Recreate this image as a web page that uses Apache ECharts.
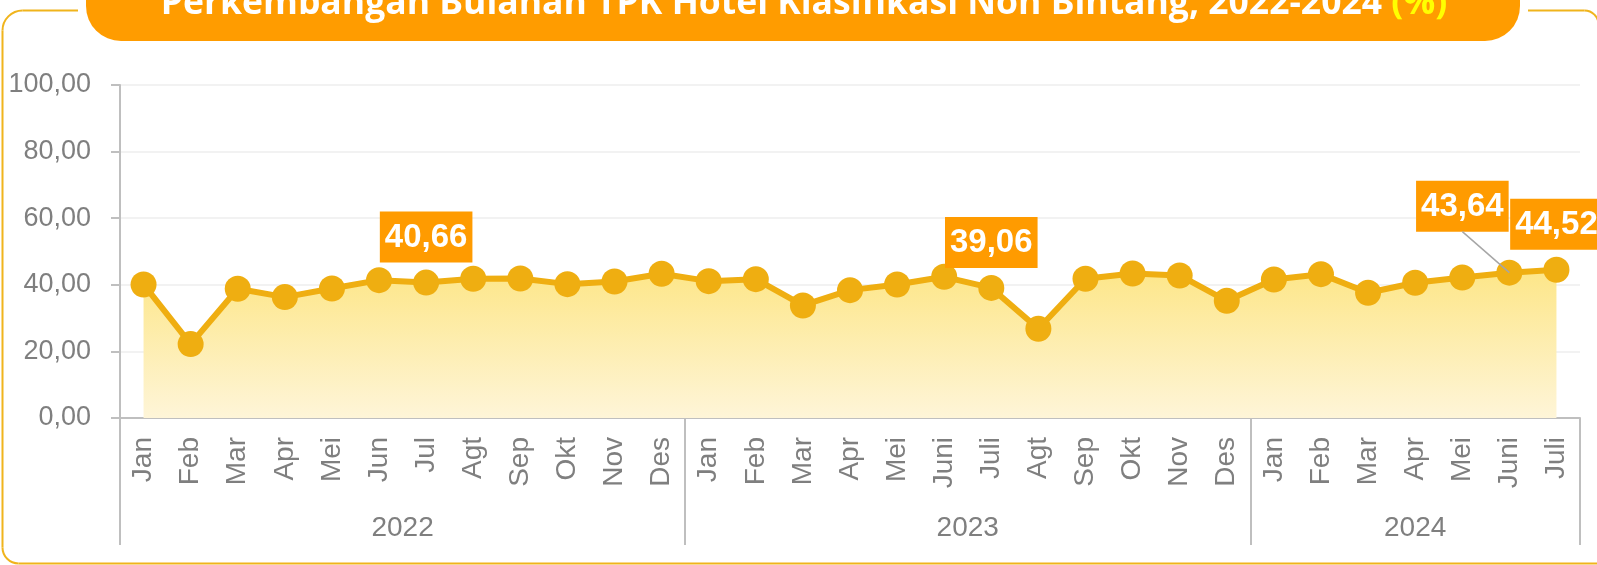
<!DOCTYPE html>
<html>
<head>
<meta charset="utf-8">
<script src="https://cdn.jsdelivr.net/npm/echarts@6/dist/echarts.min.js"></script>
<style>
  html, body { margin: 0; padding: 0; background: #ffffff; }
  #chart { width: 1597px; height: 565px; }
</style>
</head>
<body>
<div id="chart"></div>
<script>
// Month names per year (Indonesian abbreviations)
const months2022 = ['Jan', 'Feb', 'Mar', 'Apr', 'Mei', 'Jun', 'Jul', 'Agt', 'Sep', 'Okt', 'Nov', 'Des'];
const months2023 = ['Jan', 'Feb', 'Mar', 'Apr', 'Mei', 'Juni', 'Juli', 'Agt', 'Sep', 'Okt', 'Nov', 'Des'];
const months2024 = ['Jan', 'Feb', 'Mar', 'Apr', 'Mei', 'Juni', 'Juli'];
const years = ['2022', '2023', '2024'];

// Room occupancy rate (TPK), non-star hotels, percent
const tpk2022 = [40.1, 22.2, 38.8, 36.3, 38.9, 41.4, 40.66, 41.8, 41.9, 40.2, 41.0, 43.3];
const tpk2023 = [41.1, 41.7, 33.8, 38.4, 40.1, 42.4, 39.06, 26.8, 41.8, 43.4, 42.8, 35.2];
const tpk2024 = [41.6, 43.2, 37.6, 40.6, 42.2, 43.64, 44.52];

// Y axis ticks
const yTicks = [0, 20, 40, 60, 80, 100];

// Points whose value is printed in a call-out box
const labelled = ['2022-Jul', '2023-Juli', '2024-Juni', '2024-Juli'];
// Call-out that is shifted left and tied back to its point with a leader line
const shiftedLabel = '2024-Juni';

const SANS = '"Liberation Sans", Arial, sans-serif';
const TITLE_FONT = '"Open Sans", "Noto Sans", sans-serif';
const GREY = '#7f7f7f';
const AXIS = '#bfbfbf';
const LINE = '#efae11';
const CALLOUT = '#ff9b00';
const FRAME = '#f0b41c';

const groups = [
  { year: years[0], months: months2022, values: tpk2022 },
  { year: years[1], months: months2023, values: tpk2023 },
  { year: years[2], months: months2024, values: tpk2024 }
];

const monthCats = [];
const values = [];
const keys = [];
groups.forEach(g => {
  g.months.forEach((m, i) => {
    monthCats.push(m);
    values.push(g.values[i]);
    keys.push(g.year + '-' + m);
  });
});

// Year axis runs on half-month slots so that group borders and group centres
// both fall on slots.
const slotCount = monthCats.length * 2 + 1;
const yearSlots = new Array(slotCount).fill('');
const borderSlots = new Set([0]);
const centreSlots = new Set();
let start = 0;
groups.forEach(g => {
  const end = start + g.months.length * 2;
  const mid = (start + end) / 2;
  yearSlots[mid] = g.year;
  centreSlots.add(mid);
  borderSlots.add(end);
  start = end;
});

const fmt = v => v.toFixed(2).replace('.', ',');

const seriesData = values.map((v, i) => {
  const item = { value: v };
  if (labelled.includes(keys[i])) {
    item.label = { show: true };
  }
  return item;
});
const shiftedIndex = keys.indexOf(shiftedLabel);

const chart = echarts.init(document.getElementById('chart'), null, { renderer: 'canvas' });

const frameStyle = { fill: null, stroke: FRAME, lineWidth: 2 };

// Rounded outer frame, open at the top where the title banner sits
const frame = [
  { type: 'line', shape: { x1: 78, y1: 10.5, x2: 22.5, y2: 10.5 }, style: frameStyle },
  { type: 'arc', shape: { cx: 22.5, cy: 30.5, r: 20, startAngle: Math.PI, endAngle: Math.PI * 1.5, clockwise: true }, style: frameStyle },
  { type: 'line', shape: { x1: 2.5, y1: 30.5, x2: 2.5, y2: 547.5 }, style: frameStyle },
  { type: 'arc', shape: { cx: 18.5, cy: 547.5, r: 16, startAngle: Math.PI * 0.5, endAngle: Math.PI, clockwise: true }, style: frameStyle },
  { type: 'line', shape: { x1: 18.5, y1: 563.5, x2: 1598.5, y2: 563.5 }, style: frameStyle },
  { type: 'line', shape: { x1: 1598.5, y1: 563.5, x2: 1598.5, y2: 24.5 }, style: frameStyle },
  { type: 'arc', shape: { cx: 1584.5, cy: 24.5, r: 14, startAngle: Math.PI * 1.5, endAngle: Math.PI * 2, clockwise: true }, style: frameStyle },
  { type: 'line', shape: { x1: 1584.5, y1: 10.5, x2: 1528, y2: 10.5 }, style: frameStyle }
].map(el => Object.assign({ z: 1, silent: true }, el));

const banner = [
  {
    type: 'rect',
    shape: { x: 86, y: -45, width: 1434, height: 86, r: 35 },
    style: { fill: '#ff9c00' },
    z: 2
  },
  {
    type: 'text',
    x: 804,
    y: 3.5,
    style: {
      text: '{t|Perkembangan Bulanan TPK Hotel Klasifikasi Non Bintang, 2022-2024 }{p|(%)}',
      align: 'center',
      verticalAlign: 'middle',
      rich: {
        t: { fill: '#ffffff', color: '#ffffff', fontFamily: TITLE_FONT, fontWeight: 'bold', fontSize: 35.5 },
        p: { fill: '#ffff00', color: '#ffff00', fontFamily: TITLE_FONT, fontWeight: 'bold', fontSize: 35.5 }
      }
    },
    z: 3
  }
];

const option = {
  animation: false,
  grid: { left: 120, right: 17, top: 85, bottom: 147, containLabel: false, outerBoundsMode: 'none' },
  xAxis: [
    {
      type: 'category',
      data: monthCats,
      boundaryGap: true,
      position: 'bottom',
      axisLine: { show: true, onZero: false, lineStyle: { color: AXIS, width: 2 } },
      axisTick: { show: false },
      axisLabel: {
        interval: 0, rotate: 90, margin: 19,
        color: GREY, fontFamily: SANS, fontSize: 28
      },
      splitLine: { show: false }
    },
    {
      type: 'category',
      data: yearSlots,
      boundaryGap: false,
      position: 'bottom',
      axisLine: { show: false, onZero: false },
      axisTick: {
        show: true,
        interval: idx => borderSlots.has(idx),
        length: 127,
        lineStyle: { color: AXIS, width: 2 }
      },
      axisLabel: {
        interval: idx => centreSlots.has(idx),
        margin: 96,
        color: GREY, fontFamily: SANS, fontSize: 28
      },
      splitLine: { show: false }
    }
  ],
  yAxis: {
    type: 'value',
    min: yTicks[0],
    max: yTicks[yTicks.length - 1],
    interval: yTicks[1] - yTicks[0],
    axisLine: { show: true, lineStyle: { color: AXIS, width: 2 } },
    axisTick: { show: true, length: 9, lineStyle: { color: AXIS, width: 2 } },
    axisLabel: {
      margin: 29, color: GREY, fontFamily: SANS, fontSize: 27,
      formatter: v => fmt(v)
    },
    splitLine: { show: true, lineStyle: { color: '#f2f2f2', width: 2 } }
  },
  series: [
    {
      type: 'line',
      data: seriesData,
      symbol: 'circle',
      symbolSize: 26,
      showSymbol: true,
      showAllSymbol: true,
      lineStyle: { color: LINE, width: 6 },
      itemStyle: { color: LINE },
      areaStyle: {
        opacity: 1,
        color: new echarts.graphic.LinearGradient(0, 0, 0, 1, [
          { offset: 0, color: '#fde688' },
          { offset: 1, color: '#fef5d8' }
        ])
      },
      label: {
        show: false,
        position: 'top',
        distance: 7,
        formatter: p => fmt(p.value),
        backgroundColor: CALLOUT,
        color: '#ffffff',
        fontFamily: SANS,
        fontWeight: 'bold',
        fontSize: 33,
        lineHeight: 38,
        padding: [7, 5, 6, 5]
      },
      labelLayout: params => {
        if (params.dataIndex === shiftedIndex) {
          return { dx: -47, dy: -21 };
        }
        return {};
      },
      emphasis: { disabled: true },
      z: 3
    }
  ],
  graphic: frame.concat(banner)
};

chart.setOption(option);

// Leader line from the shifted call-out back to its point
const pt = chart.convertToPixel({ xAxisIndex: 0, yAxisIndex: 0 }, [shiftedIndex, values[shiftedIndex]]);
chart.setOption({
  graphic: frame.concat(banner, [
    {
      type: 'line',
      shape: { x1: pt[0] - 47, y1: pt[1] - 41, x2: pt[0], y2: pt[1] },
      style: { stroke: '#a6a6a6', lineWidth: 1.5 },
      z: 10
    }
  ])
});
</script>
</body>
</html>
